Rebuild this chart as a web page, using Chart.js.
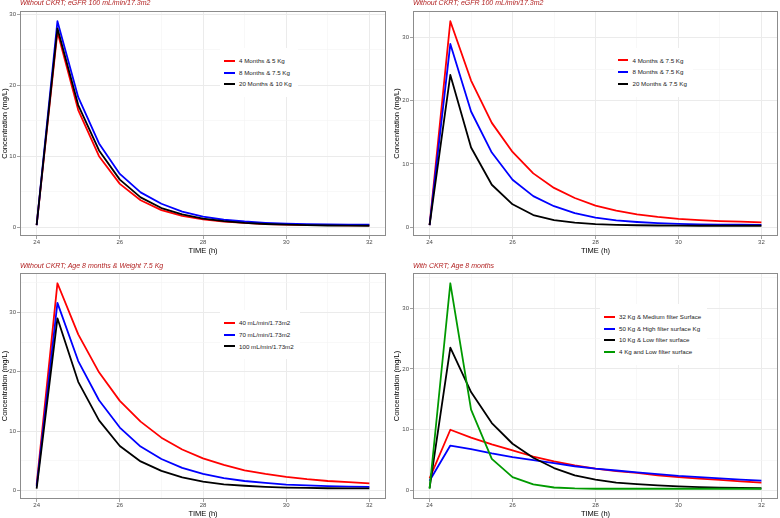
<!DOCTYPE html>
<html>
<head>
<meta charset="utf-8">
<script src="https://cdn.jsdelivr.net/npm/chart.js@4.4.1/dist/chart.umd.min.js"></script>
<style>
  body { margin: 0; background: #fff; }
  #page { position: relative; width: 780px; height: 518px; overflow: hidden; font-family: "Liberation Sans", Arial, sans-serif; }
  canvas { position: absolute; }
  .title { position: absolute; font-size: 7px; font-style: italic; color: #B22222; white-space: nowrap; line-height: 8px; }
  .legend { position: absolute; background: #fff; padding: 7px 6px 7px 4px; font-size: 6.2px; color: #1a1a1a; }
  .legend div { height: 11.7px; line-height: 11.7px; white-space: nowrap; }
  .legend span.key { display: inline-block; width: 10.5px; height: 2px; vertical-align: middle; margin-right: 4.5px; margin-top: -1px; }
</style>
</head>
<body>
<div id="page">
  <canvas id="p1" width="390" height="258" style="left:0;top:0"></canvas>
  <canvas id="p2" width="390" height="258" style="left:390px;top:0"></canvas>
  <canvas id="p3" width="390" height="260" style="left:0;top:258px"></canvas>
  <canvas id="p4" width="390" height="260" style="left:390px;top:258px"></canvas>
</div>
<script>
// time points (h)
const TIME = [24, 24.5, 25, 25.5, 26, 26.5, 27, 27.5, 28, 28.5, 29, 29.5, 30, 30.5, 31, 31.5, 32];
const X_TICKS = [24, 25, 26, 27, 28, 29, 30, 31, 32];
const Y_TICKS = [0, 5, 10, 15, 20, 25, 30, 35];

// panel 1: without CKRT, eGFR 100
const P1_LABELS = ['4 Months & 5 Kg', '8 Months & 7.5 Kg', '20 Months & 10 Kg'];
const P1_RED = [0.3, 27.5, 16.5, 10.0, 6.1, 3.8, 2.4, 1.6, 1.1, 0.8, 0.6, 0.45, 0.36, 0.31, 0.28, 0.27, 0.26];
const P1_BLUE = [0.3, 29.0, 18.3, 11.8, 7.5, 4.9, 3.3, 2.2, 1.5, 1.05, 0.8, 0.62, 0.5, 0.43, 0.38, 0.36, 0.35];
const P1_BLACK = [0.3, 28.0, 17.2, 10.8, 6.7, 4.2, 2.7, 1.8, 1.2, 0.85, 0.6, 0.45, 0.35, 0.28, 0.24, 0.22, 0.2];

// panel 2: without CKRT, weight 7.5
const P2_LABELS = ['4 Months & 7.5 Kg', '8 Months & 7.5 Kg', '20 Months & 7.5 Kg'];
const P2_RED = [0.3, 32.6, 23.2, 16.5, 11.9, 8.5, 6.2, 4.6, 3.4, 2.6, 2.0, 1.6, 1.3, 1.1, 0.95, 0.85, 0.75];
const P2_BLUE = [0.3, 29.0, 18.3, 11.8, 7.5, 4.9, 3.3, 2.2, 1.5, 1.05, 0.8, 0.62, 0.5, 0.43, 0.38, 0.36, 0.35];
const P2_BLACK = [0.3, 24.1, 12.6, 6.7, 3.6, 1.9, 1.1, 0.7, 0.45, 0.35, 0.28, 0.24, 0.22, 0.2, 0.2, 0.2, 0.2];

// panel 3: without CKRT, 8 months & 7.5 kg, by eGFR
const P3_LABELS = ['40 mL/min/1.73m2', '70 mL/min/1.73m2', '100 mL/min/1.73m2'];
const P3_RED = [1.0, 34.9, 26.3, 19.9, 15.1, 11.6, 8.9, 6.9, 5.4, 4.3, 3.4, 2.8, 2.3, 1.9, 1.6, 1.4, 1.2];
const P3_BLUE = [0.7, 31.6, 21.8, 15.2, 10.6, 7.4, 5.3, 3.8, 2.8, 2.1, 1.6, 1.3, 1.0, 0.85, 0.75, 0.65, 0.6];
const P3_BLACK = [0.3, 29.0, 18.3, 11.8, 7.5, 4.9, 3.3, 2.2, 1.5, 1.05, 0.8, 0.62, 0.5, 0.43, 0.38, 0.36, 0.35];

// panel 4: with CKRT, 8 months
const P4_LABELS = ['32 Kg & Medium filter Surface', '50 Kg & High filter surface Kg', '10 Kg & Low filter surface', '4 Kg and Low filter surface'];
const P4_RED = [2.0, 10.0, 8.7, 7.6, 6.6, 5.6, 4.8, 4.15, 3.6, 3.2, 2.9, 2.5, 2.2, 1.95, 1.75, 1.5, 1.3];
const P4_BLUE = [1.6, 7.4, 6.8, 6.1, 5.5, 5.0, 4.5, 4.0, 3.6, 3.3, 3.0, 2.7, 2.4, 2.2, 2.0, 1.8, 1.64];
const P4_BLACK = [0.4, 23.5, 16.2, 11.1, 7.7, 5.4, 3.7, 2.5, 1.8, 1.3, 1.05, 0.85, 0.7, 0.58, 0.48, 0.42, 0.38];
const P4_GREEN = [0.3, 34.1, 13.3, 5.2, 2.2, 1.0, 0.5, 0.35, 0.3, 0.3, 0.3, 0.3, 0.3, 0.3, 0.3, 0.3, 0.3];

const COLORS = ['#FF0000', '#0000FF', '#000000', '#009A00'];

// draw the grey panel box round the plot area
const panelBorder = {
    id: 'panelBorder',
    afterDraw(chart) {
        const a = chart.chartArea;
        const ctx = chart.ctx;
        ctx.save();
        ctx.strokeStyle = '#8c8c8c';
        ctx.lineWidth = 1;
        ctx.strokeRect(Math.round(a.left) + 0.5, Math.round(a.top) + 0.5, Math.round(a.right - a.left) - 1, Math.round(a.bottom - a.top) - 1);
        ctx.restore();
    }
};

function gridColor(ctx, step) {
    return ctx.tick && ctx.tick.value % step === 0 ? '#EBEBEB' : '#F4F4F4';
}

function makePanel(id, box, labels, series) {
    let all = [].concat(...series);
    let lo = Math.min(...all), hi = Math.max(...all);
    let pad = (hi - lo) * 0.05;
    let yMin = lo - pad, yMax = hi + pad;

    let datasets = series.map((vals, i) => ({
        label: labels[i],
        data: TIME.map((t, k) => ({ x: t, y: vals[k] })),
        borderColor: COLORS[i],
        borderWidth: 1.8,
        pointRadius: 0,
        tension: 0,
        borderJoinStyle: 'round',
        order: series.length - i
    }));

    new Chart(document.getElementById(id), {
        type: 'line',
        data: { datasets: datasets },
        plugins: [panelBorder],
        options: {
            responsive: false,
            animation: false,
            layout: { padding: { left: box.padL, top: box.T, right: box.W - box.R, bottom: box.padB } },
            plugins: { legend: { display: false }, tooltip: { enabled: false } },
            scales: {
                x: {
                    type: 'linear',
                    min: 23.6,
                    max: 32.4,
                    afterBuildTicks: (s) => { s.ticks = X_TICKS.map(v => ({ value: v })); },
                    afterFit: (s) => { s.height = box.H - box.padB - box.B; },
                    ticks: {
                        autoSkip: false, maxRotation: 0, padding: 0,
                        color: '#4D4D4D', font: { family: 'Liberation Sans', size: 6 },
                        callback: (v) => v % 2 === 0 ? String(v) : ''
                    },
                    grid: {
                        color: (c) => gridColor(c, 2),
                        lineWidth: (c) => c.tick && c.tick.value % 2 === 0 ? 1 : 0.6,
                        tickLength: 3,
                        tickColor: (c) => c.tick && c.tick.value % 2 === 0 ? '#8c8c8c' : 'rgba(0,0,0,0)',
                        tickWidth: 0.8
                    },
                    border: { display: false },
                    title: { display: true, text: 'TIME (h)', color: '#000', padding: 0, font: { family: 'Liberation Sans', size: 7.5 } }
                },
                y: {
                    type: 'linear',
                    min: yMin,
                    max: yMax,
                    afterBuildTicks: (s) => { s.ticks = Y_TICKS.filter(v => v >= yMin && v <= yMax).map(v => ({ value: v })); },
                    afterFit: (s) => { s.width = box.L - box.padL; },
                    ticks: {
                        padding: 1,
                        color: '#4D4D4D', font: { family: 'Liberation Sans', size: 6 },
                        callback: (v) => v % 10 === 0 ? String(v) : ''
                    },
                    grid: {
                        color: (c) => gridColor(c, 10),
                        lineWidth: (c) => c.tick && c.tick.value % 10 === 0 ? 1 : 0.6,
                        tickLength: 3,
                        tickColor: (c) => c.tick && c.tick.value % 10 === 0 ? '#8c8c8c' : 'rgba(0,0,0,0)',
                        tickWidth: 0.8
                    },
                    border: { display: false },
                    title: { display: true, text: 'Concentration (mg/L)', color: '#000', padding: 0, font: { family: 'Liberation Sans', size: 7.5 } }
                }
            }
        }
    });
}

function addText(cls, left, top, html) {
    let d = document.createElement('div');
    d.className = cls;
    d.style.left = left + 'px';
    d.style.top = top + 'px';
    d.innerHTML = html;
    document.getElementById('page').appendChild(d);
}

function addLegend(left, top, labels) {
    let rows = labels.map((t, i) =>
        `<div><span class="key" style="background:${COLORS[i]}"></span>${t.replace(/&/g, '&amp;')}</div>`).join('');
    addText('legend', left, top, rows);
}

makePanel('p1', { W: 390, H: 258, L: 20, T: 11, R: 386, B: 236, padL: 0, padB: 3 }, P1_LABELS, [P1_RED, P1_BLUE, P1_BLACK]);
makePanel('p2', { W: 390, H: 258, L: 23, T: 11, R: 388, B: 236, padL: 2, padB: 3 }, P2_LABELS, [P2_RED, P2_BLUE, P2_BLACK]);
makePanel('p3', { W: 390, H: 260, L: 20, T: 15, R: 386, B: 241, padL: 0, padB: 0 }, P3_LABELS, [P3_RED, P3_BLUE, P3_BLACK]);
makePanel('p4', { W: 390, H: 260, L: 23, T: 15, R: 388, B: 241, padL: 2, padB: 0 }, P4_LABELS, [P4_RED, P4_BLUE, P4_BLACK, P4_GREEN]);

addText('title', 20, -1, 'Without CKRT; eGFR 100 mL/min/17.3m2');
addText('title', 413, -1, 'Without CKRT; eGFR 100 mL/min/17.3m2');
addText('title', 20, 262, 'Without CKRT; Age 8 months &amp; Weight 7.5 Kg');
addText('title', 413, 262, 'With CKRT; Age 8 months');

addLegend(220, 48, P1_LABELS);
addLegend(613.5, 47.5, P2_LABELS);
addLegend(220, 310.2, P3_LABELS);
addLegend(600, 304, P4_LABELS);
</script>
</body>
</html>
